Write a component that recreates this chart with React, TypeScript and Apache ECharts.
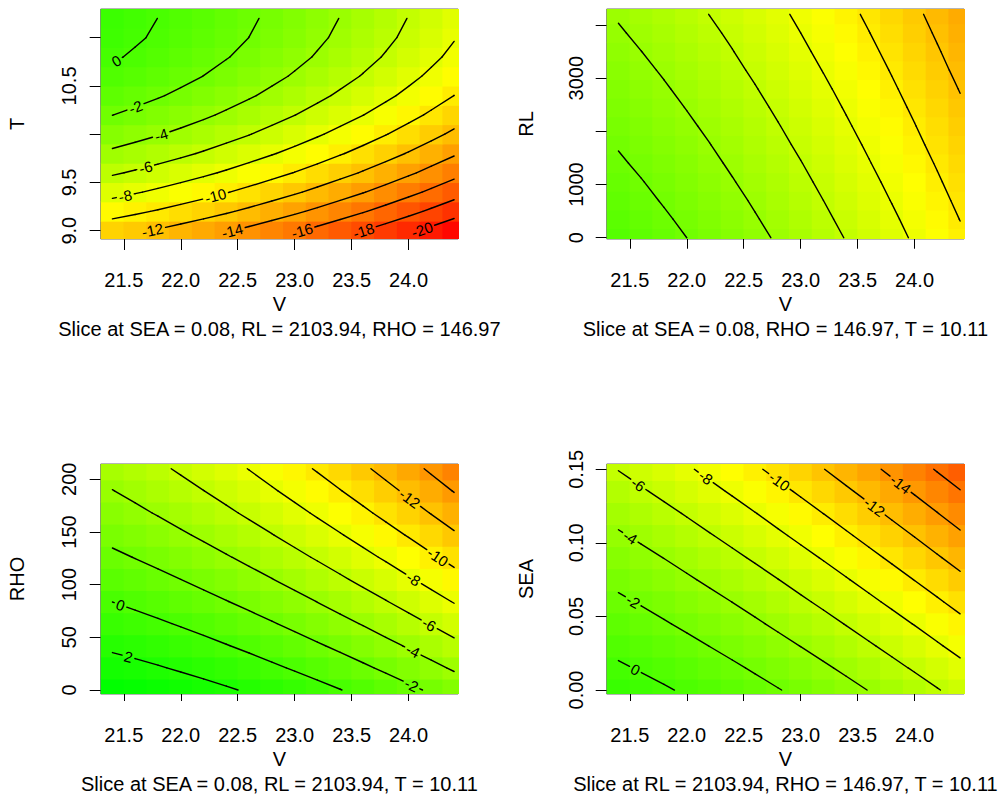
import { useEffect, useRef } from "react";
import * as echarts from "echarts";

const FONT = "'Liberation Sans', Arial, Helvetica, sans-serif";

// ---------- shared V axis ----------
const vNodes = [21.4, 21.6, 21.8, 22.0, 22.2, 22.4, 22.6, 22.8, 23.0, 23.2, 23.4, 23.6, 23.8, 24.0, 24.2, 24.4];
const vTicks = [21.5, 22.0, 22.5, 23.0, 23.5, 24.0];
const vRange = [21.297, 24.435];

// ---------- slice 1: response over V x T ----------
const tNodes = [9.0, 9.2, 9.4, 9.6, 9.8, 10.0, 10.2, 10.4, 10.6, 10.8, 11.0, 11.2];
const tSurface = [
  [-11.23, -11.69, -12.18, -12.70, -13.25, -13.84, -14.45, -15.10, -15.77, -16.48, -17.22, -17.98, -18.78, -19.61, -20.48, -21.37],
  [-9.23, -9.68, -10.16, -10.67, -11.20, -11.78, -12.38, -13.02, -13.68, -14.38, -15.11, -15.86, -16.65, -17.46, -18.32, -19.20],
  [-7.41, -7.85, -8.32, -8.81, -9.34, -9.91, -10.50, -11.12, -11.77, -12.46, -13.17, -13.91, -14.69, -15.50, -16.34, -17.21],
  [-5.78, -6.21, -6.66, -7.15, -7.66, -8.22, -8.79, -9.41, -10.05, -10.72, -11.43, -12.15, -12.92, -13.71, -14.55, -15.41],
  [-4.33, -4.74, -5.19, -5.66, -6.17, -6.71, -7.28, -7.88, -8.50, -9.17, -9.86, -10.58, -11.33, -12.12, -12.94, -13.79],
  [-3.06, -3.47, -3.90, -4.36, -4.85, -5.39, -5.94, -6.53, -7.15, -7.80, -8.48, -9.18, -9.93, -10.70, -11.51, -12.34],
  [-1.98, -2.37, -2.79, -3.24, -3.73, -4.25, -4.79, -5.37, -5.97, -6.61, -7.28, -7.97, -8.70, -9.47, -10.27, -11.09],
  [-1.08, -1.46, -1.87, -2.31, -2.78, -3.29, -3.82, -4.39, -4.98, -5.61, -6.27, -6.95, -7.66, -8.41, -9.20, -10.01],
  [-0.36, -0.73, -1.13, -1.56, -2.02, -2.52, -3.03, -3.59, -4.17, -4.79, -5.44, -6.10, -6.81, -7.55, -8.33, -9.13],
  [0.17, -0.19, -0.57, -0.99, -1.44, -1.92, -2.43, -2.98, -3.54, -4.15, -4.79, -5.44, -6.14, -6.87, -7.63, -8.42],
  [0.52, 0.18, -0.20, -0.61, -1.04, -1.52, -2.01, -2.55, -3.10, -3.70, -4.32, -4.97, -5.65, -6.37, -7.12, -7.90],
  [0.69, 0.35, -0.01, -0.40, -0.83, -1.29, -1.77, -2.30, -2.84, -3.42, -4.04, -4.67, -5.34, -6.05, -6.79, -7.56],
];
const tLevels = [0, -2, -4, -6, -8, -10, -12, -14, -16, -18, -20];
const tLabelSpots = [
  [21.45, 10.73, 0], [21.61, 10.26, -2], [21.83, 9.99, -4], [21.70, 9.62, -6],
  [21.52, 9.32, -8], [22.31, 9.34, -10], [21.76, 8.96, -12], [22.46, 8.96, -14],
  [23.07, 8.97, -16], [23.61, 8.97, -18], [24.13, 8.97, -20],
];
const tTicks = [9, 9.5, 10, 10.5, 11];
const tTickLabels = [9, 9.5, 10.5];
const tRange = [8.914, 11.297];

// ---------- slice 2: response over V x RL ----------
const rlNodes = [0, 350, 700, 1050, 1400, 1750, 2100, 2450, 2800, 3150, 3500, 3850, 4200];
const rlSurface = [
  [-0.64, -1.07, -1.52, -2.00, -2.51, -3.04, -3.60, -4.18, -4.78, -5.42, -6.07, -6.76, -7.46, -8.20, -8.96, -9.74],
  [-0.93, -1.36, -1.81, -2.29, -2.80, -3.33, -3.89, -4.47, -5.08, -5.71, -6.36, -7.05, -7.75, -8.49, -9.25, -10.03],
  [-1.22, -1.65, -2.11, -2.59, -3.09, -3.62, -4.18, -4.76, -5.37, -6.00, -6.66, -7.34, -8.05, -8.78, -9.54, -10.32],
  [-1.51, -1.94, -2.40, -2.88, -3.39, -3.92, -4.47, -5.05, -5.66, -6.29, -6.95, -7.63, -8.34, -9.07, -9.83, -10.61],
  [-1.81, -2.24, -2.69, -3.17, -3.68, -4.21, -4.76, -5.35, -5.95, -6.58, -7.24, -7.93, -8.63, -9.37, -10.12, -10.91],
  [-2.10, -2.53, -2.98, -3.46, -3.97, -4.50, -5.06, -5.64, -6.25, -6.88, -7.53, -8.22, -8.92, -9.66, -10.42, -11.20],
  [-2.39, -2.82, -3.28, -3.76, -4.26, -4.79, -5.35, -5.93, -6.54, -7.17, -7.83, -8.51, -9.22, -9.95, -10.71, -11.49],
  [-2.68, -3.11, -3.57, -4.05, -4.55, -5.09, -5.64, -6.22, -6.83, -7.46, -8.12, -8.80, -9.51, -10.24, -11.00, -11.78],
  [-2.97, -3.40, -3.86, -4.34, -4.85, -5.38, -5.93, -6.51, -7.12, -7.75, -8.41, -9.09, -9.80, -10.53, -11.29, -12.07],
  [-3.27, -3.70, -4.15, -4.63, -5.14, -5.67, -6.23, -6.81, -7.42, -8.05, -8.70, -9.39, -10.09, -10.83, -11.59, -12.37],
  [-3.56, -3.99, -4.44, -4.93, -5.43, -5.96, -6.52, -7.10, -7.71, -8.34, -9.00, -9.68, -10.38, -11.12, -11.88, -12.66],
  [-3.85, -4.28, -4.74, -5.22, -5.72, -6.25, -6.81, -7.39, -8.00, -8.63, -9.29, -9.97, -10.68, -11.41, -12.17, -12.95],
  [-4.14, -4.57, -5.03, -5.51, -6.02, -6.55, -7.10, -7.68, -8.29, -8.92, -9.58, -10.26, -10.97, -11.70, -12.46, -13.24],
];
const rlLevels = [-2, -4, -6, -8, -10, -12];
const rlLabelSpots: number[][] = [];
const rlTicks = [0, 1000, 2000, 3000, 4000];
const rlTickLabels = [0, 1000, 3000];
const rlRange = [-24, 4300];

// ---------- slice 3: response over V x RHO ----------
const rhoNodes = [0, 21, 42, 63, 84, 105, 126, 147, 168, 189, 210];
const rhoSurface = [
  [3.57, 3.35, 3.11, 2.83, 2.52, 2.19, 1.82, 1.42, 0.99, 0.53, 0.04, -0.49, -1.04, -1.62, -2.24, -2.88],
  [2.63, 2.39, 2.12, 1.81, 1.48, 1.12, 0.72, 0.29, -0.17, -0.65, -1.17, -1.72, -2.30, -2.91, -3.55, -4.22],
  [1.72, 1.46, 1.15, 0.82, 0.46, 0.07, -0.35, -0.81, -1.29, -1.81, -2.35, -2.93, -3.54, -4.17, -4.84, -5.54],
  [0.84, 0.54, 0.22, -0.14, -0.53, -0.95, -1.40, -1.88, -2.40, -2.94, -3.51, -4.11, -4.75, -5.41, -6.11, -6.83],
  [-0.02, -0.35, -0.70, -1.09, -1.50, -1.95, -2.43, -2.93, -3.47, -4.04, -4.64, -5.27, -5.93, -6.63, -7.35, -8.10],
  [-0.86, -1.21, -1.59, -2.00, -2.45, -2.92, -3.42, -3.96, -4.53, -5.12, -5.75, -6.41, -7.09, -7.81, -8.56, -9.34],
  [-1.67, -2.05, -2.46, -2.90, -3.37, -3.87, -4.40, -4.96, -5.56, -6.18, -6.83, -7.52, -8.23, -8.98, -9.76, -10.56],
  [-2.46, -2.86, -3.30, -3.77, -4.26, -4.79, -5.35, -5.94, -6.56, -7.21, -7.89, -8.60, -9.35, -10.12, -10.92, -11.76],
  [-3.22, -3.65, -4.12, -4.61, -5.14, -5.69, -6.28, -6.89, -7.54, -8.22, -8.93, -9.67, -10.44, -11.24, -12.07, -12.93],
  [-3.96, -4.42, -4.91, -5.43, -5.98, -6.57, -7.18, -7.82, -8.50, -9.20, -9.94, -10.70, -11.50, -12.33, -13.19, -14.08],
  [-4.67, -5.16, -5.68, -6.23, -6.81, -7.41, -8.05, -8.73, -9.43, -10.16, -10.92, -11.71, -12.54, -13.39, -14.28, -15.20],
];
const rhoLevels = [2, 0, -2, -4, -6, -8, -10, -12, -14];
const rhoLabelSpots = [
  [21.53, 26.9, 2], [21.46, 77.6, 0], [24.01, 1.0, -2], [24.02, 33.2, -4],
  [24.17, 60.1, -6], [24.02, 101.3, -8], [24.24, 123.4, -10], [23.99, 178.7, -12],
];
const rhoTicks = [0, 50, 100, 150, 200];
const rhoTickLabels = [0, 50, 100, 150, 200];
const rhoRange = [-3.8, 214.5];

// ---------- slice 4: response over V x SEA ----------
const seaNodes = [0, 0.015, 0.03, 0.045, 0.06, 0.075, 0.09, 0.105, 0.12, 0.135, 0.15];
const seaSurface = [
  [0.82, 0.50, 0.17, -0.20, -0.59, -1.01, -1.45, -1.92, -2.41, -2.93, -3.47, -4.05, -4.64, -5.26, -5.91, -6.58],
  [0.21, -0.13, -0.49, -0.88, -1.29, -1.73, -2.20, -2.69, -3.21, -3.75, -4.32, -4.92, -5.54, -6.18, -6.85, -7.55],
  [-0.42, -0.78, -1.16, -1.58, -2.02, -2.48, -2.97, -3.49, -4.03, -4.59, -5.19, -5.81, -6.45, -7.12, -7.82, -8.54],
  [-1.06, -1.44, -1.86, -2.29, -2.75, -3.24, -3.76, -4.30, -4.86, -5.45, -6.07, -6.71, -7.38, -8.07, -8.79, -9.54],
  [-1.72, -2.13, -2.56, -3.03, -3.51, -4.02, -4.56, -5.13, -5.72, -6.33, -6.97, -7.64, -8.33, -9.05, -9.79, -10.56],
  [-2.40, -2.83, -3.29, -3.78, -4.29, -4.82, -5.38, -5.97, -6.59, -7.22, -7.89, -8.58, -9.29, -10.04, -10.80, -11.60],
  [-3.09, -3.55, -4.03, -4.54, -5.08, -5.64, -6.22, -6.84, -7.47, -8.13, -8.82, -9.54, -10.28, -11.04, -11.84, -12.65],
  [-3.81, -4.29, -4.79, -5.33, -5.89, -6.47, -7.08, -7.72, -8.38, -9.06, -9.78, -10.52, -11.28, -12.07, -12.88, -13.73],
  [-4.54, -5.04, -5.57, -6.13, -6.71, -7.32, -7.95, -8.61, -9.30, -10.01, -10.75, -11.51, -12.30, -13.11, -13.95, -14.82],
  [-5.29, -5.82, -6.37, -6.95, -7.56, -8.19, -8.85, -9.53, -10.24, -10.97, -11.74, -12.52, -13.33, -14.17, -15.03, -15.92],
  [-6.05, -6.61, -7.18, -7.79, -8.42, -9.08, -9.76, -10.47, -11.20, -11.96, -12.74, -13.55, -14.39, -15.25, -16.14, -17.05],
];
const seaLevels = [0, -2, -4, -6, -8, -10, -12, -14, -16];
const seaLabelSpots = [
  [21.54, 0.0126, 0], [21.52, 0.059, -2], [21.49, 0.102, -4], [21.55, 0.137, -6],
  [22.15, 0.1427, -8], [22.79, 0.1393, -10], [23.64, 0.1235, -12], [23.86, 0.1381, -14],
];
const seaTicks = [0, 0.05, 0.1, 0.15];
const seaTickLabels = [0, 0.05, 0.1, 0.15];
const seaRange = [-0.0027, 0.1536];

// common colour range of all four images
const zRange = [-21.7, 3.6];
const palette = ["#FF0000", "#FFFF00", "#00FF00"];

// ---------- panel definitions ----------
type Slice = {
  id: string;
  yName: string;
  yNodes: number[];
  surface: number[][];
  levels: number[];
  spots: number[][];
  yTicks: number[];
  yTickLabels: number[];
  yRange: number[];
  yDigits: number;
  subtitle: string;
};

const slices: Slice[] = [
  { id: "T", yName: "T", yNodes: tNodes, surface: tSurface, levels: tLevels, spots: tLabelSpots, yTicks: tTicks, yTickLabels: tTickLabels, yRange: tRange, yDigits: 1, subtitle: "Slice at SEA = 0.08, RL = 2103.94, RHO = 146.97" },
  { id: "RL", yName: "RL", yNodes: rlNodes, surface: rlSurface, levels: rlLevels, spots: rlLabelSpots, yTicks: rlTicks, yTickLabels: rlTickLabels, yRange: rlRange, yDigits: 0, subtitle: "Slice at SEA = 0.08, RHO = 146.97, T = 10.11" },
  { id: "RHO", yName: "RHO", yNodes: rhoNodes, surface: rhoSurface, levels: rhoLevels, spots: rhoLabelSpots, yTicks: rhoTicks, yTickLabels: rhoTickLabels, yRange: rhoRange, yDigits: 0, subtitle: "Slice at SEA = 0.08, RL = 2103.94, T = 10.11" },
  { id: "SEA", yName: "SEA", yNodes: seaNodes, surface: seaSurface, levels: seaLevels, spots: seaLabelSpots, yTicks: seaTicks, yTickLabels: seaTickLabels, yRange: seaRange, yDigits: 2, subtitle: "Slice at RL = 2103.94, RHO = 146.97, T = 10.11" },
];

// plot boxes, pixel layout
const boxes = [
  { left: 100.7, top: 9, nameGap: 74, labelMargin: 22 },
  { left: 606.7, top: 9, nameGap: 71, labelMargin: 20.5 },
  { left: 100.7, top: 464, nameGap: 74, labelMargin: 22 },
  { left: 606.7, top: 464, nameGap: 71, labelMargin: 20.5 },
];
const BOX_W = 357.4;
const BOX_H = 230;
const LABEL_SIZE = 15;

// ---------- contour tracing (marching squares) ----------
type Seg = number[]; // [x1, y1, x2, y2, level]
function traceContours(xs: number[], ys: number[], z: number[][], levels: number[]): Seg[] {
  const out: Seg[] = [];
  for (const lv of levels) {
    for (let r = 0; r < ys.length - 1; r++) {
      for (let c = 0; c < xs.length - 1; c++) {
        const x0 = xs[c], x1 = xs[c + 1], y0 = ys[r], y1 = ys[r + 1];
        const a = z[r][c], b = z[r][c + 1], d = z[r + 1][c], e = z[r + 1][c + 1];
        const hits: number[][] = [];
        const cross = (za: number, zb: number, xa: number, ya: number, xb: number, yb: number) => {
          if ((za >= lv) !== (zb >= lv)) {
            const t = (lv - za) / (zb - za);
            hits.push([xa + t * (xb - xa), ya + t * (yb - ya)]);
          }
        };
        cross(a, b, x0, y0, x1, y0);
        cross(b, e, x1, y0, x1, y1);
        cross(e, d, x1, y1, x0, y1);
        cross(d, a, x0, y1, x0, y0);
        if (hits.length === 2) {
          out.push([hits[0][0], hits[0][1], hits[1][0], hits[1][1], lv]);
        } else if (hits.length === 4) {
          const mid = (a + b + d + e) / 4;
          if ((mid >= lv) === (a >= lv)) {
            out.push([hits[0][0], hits[0][1], hits[1][0], hits[1][1], lv]);
            out.push([hits[2][0], hits[2][1], hits[3][0], hits[3][1], lv]);
          } else {
            out.push([hits[0][0], hits[0][1], hits[3][0], hits[3][1], lv]);
            out.push([hits[1][0], hits[1][1], hits[2][0], hits[2][1], lv]);
          }
        }
      }
    }
  }
  return out;
}

const segmentsBySlice = slices.map((s) => traceContours(vNodes, s.yNodes, s.surface, s.levels));

type PlacedLabel = { x: number; y: number; angle: number; text: string; level: number; r: number };
const labelCache: Record<string, PlacedLabel[]> = {};

function textWidth(t: string, size: number) {
  let w = 0;
  for (const ch of t) w += ch === "-" ? 0.333 : 0.556;
  return w * size;
}

// put each contour label on the nearest point of its own contour, aligned with it
function placeLabels(si: number, api: any): PlacedLabel[] {
  const segs = segmentsBySlice[si];
  return slices[si].spots.map((spot) => {
    const p = api.coord([spot[0], spot[1]]);
    const lv = spot[2];
    let best = { d: Infinity, x: p[0], y: p[1], angle: 0 };
    for (const s of segs) {
      if (s[4] !== lv) continue;
      const a = api.coord([s[0], s[1]]);
      const b = api.coord([s[2], s[3]]);
      const dx = b[0] - a[0], dy = b[1] - a[1];
      const len2 = dx * dx + dy * dy;
      let t = len2 > 0 ? ((p[0] - a[0]) * dx + (p[1] - a[1]) * dy) / len2 : 0;
      t = Math.max(0, Math.min(1, t));
      const qx = a[0] + t * dx, qy = a[1] + t * dy;
      const d = (qx - p[0]) ** 2 + (qy - p[1]) ** 2;
      if (d < best.d) {
        let ang = Math.atan2(-dy, dx);
        if (ang > Math.PI / 2) ang -= Math.PI;
        if (ang < -Math.PI / 2) ang += Math.PI;
        best = { d, x: qx, y: qy, angle: ang };
      }
    }
    const text = String(lv);
    return { x: best.x, y: best.y, angle: best.angle, text, level: lv, r: textWidth(text, LABEL_SIZE) / 2 + 2.5 };
  });
}

function cutAround(pieces: number[][], a: number[], b: number[], L: PlacedLabel) {
  const dx = b[0] - a[0], dy = b[1] - a[1];
  const fx = a[0] - L.x, fy = a[1] - L.y;
  const A = dx * dx + dy * dy;
  if (A < 1e-9) return pieces;
  const B = 2 * (fx * dx + fy * dy);
  const C = fx * fx + fy * fy - L.r * L.r;
  const disc = B * B - 4 * A * C;
  if (disc <= 0) return pieces;
  const sq = Math.sqrt(disc);
  const t0 = (-B - sq) / (2 * A), t1 = (-B + sq) / (2 * A);
  const res: number[][] = [];
  for (const [p, q] of pieces) {
    if (t1 <= p || t0 >= q) { res.push([p, q]); continue; }
    if (t0 > p) res.push([p, t0]);
    if (t1 < q) res.push([t1, q]);
  }
  return res;
}

function buildOption() {
  const grid: any[] = [];
  const xAxis: any[] = [];
  const yAxis: any[] = [];
  const series: any[] = [];
  const heatIdx: number[] = [];
  const graphic: any[] = [];
  const dv = vNodes[1] - vNodes[0];

  slices.forEach((s, i) => {
    const box = boxes[i];
    const dy = s.yNodes[1] - s.yNodes[0];
    grid.push({
      left: box.left, top: box.top, width: BOX_W, height: BOX_H,
      show: true, borderColor: "#6a6a6a", borderWidth: 1, backgroundColor: "transparent",
    });
    xAxis.push({
      type: "value", gridIndex: i, min: vRange[0], max: vRange[1],
      axisLine: { show: false }, splitLine: { show: false },
      axisTick: { show: true, length: 11, lineStyle: { color: "#000", width: 1 }, customValues: vTicks },
      axisLabel: {
        customValues: vTicks, formatter: (v: number) => v.toFixed(1),
        fontSize: 20, fontFamily: FONT, color: "#000", margin: 31,
      },
      name: "V", nameLocation: "middle", nameGap: 55,
      nameTextStyle: { fontSize: 20, fontFamily: FONT, color: "#000" },
    });
    yAxis.push({
      type: "value", gridIndex: i, min: s.yRange[0], max: s.yRange[1],
      axisLine: { show: false }, splitLine: { show: false },
      axisTick: { show: true, length: 11, lineStyle: { color: "#000", width: 1 }, customValues: s.yTicks },
      axisLabel: {
        customValues: s.yTickLabels, formatter: (v: number) => v.toFixed(s.yDigits), rotate: 90,
        fontSize: 20, fontFamily: FONT, color: "#000", margin: box.labelMargin,
      },
      name: s.yName, nameLocation: "middle", nameGap: box.nameGap,
      nameTextStyle: { fontSize: 20, fontFamily: FONT, color: "#000" },
    });

    // image cells
    const cells: number[][] = [];
    s.surface.forEach((row, r) => row.forEach((z, c) => cells.push([vNodes[c], s.yNodes[r], z])));
    heatIdx.push(series.length);
    series.push({
      type: "custom", xAxisIndex: i, yAxisIndex: i, clip: true, silent: true,
      encode: { x: 0, y: 1 },
      data: cells,
      renderItem: (_p: any, api: any) => {
        const v = api.value(0), y = api.value(1);
        const a = api.coord([v - dv / 2, y + dy / 2]);
        const b = api.coord([v + dv / 2, y - dy / 2]);
        return {
          type: "rect",
          shape: { x: a[0] - 0.3, y: a[1] - 0.3, width: b[0] - a[0] + 0.9, height: b[1] - a[1] + 0.9 },
          style: { fill: api.visual("color"), stroke: null },
        };
      },
    });

    // contour lines, broken where a label sits
    series.push({
      type: "custom", xAxisIndex: i, yAxisIndex: i, clip: true, silent: true,
      encode: { x: [0, 2], y: [1, 3] },
      data: segmentsBySlice[i],
      renderItem: (params: any, api: any) => {
        if (params.dataIndex === 0 || !labelCache[s.id]) labelCache[s.id] = placeLabels(i, api);
        const a = api.coord([api.value(0), api.value(1)]);
        const b = api.coord([api.value(2), api.value(3)]);
        const lv = api.value(4);
        let pieces: number[][] = [[0, 1]];
        for (const L of labelCache[s.id]) if (L.level === lv) pieces = cutAround(pieces, a, b, L);
        return {
          type: "group",
          children: pieces.map(([t0, t1]) => ({
            type: "line",
            shape: {
              x1: a[0] + (b[0] - a[0]) * t0, y1: a[1] + (b[1] - a[1]) * t0,
              x2: a[0] + (b[0] - a[0]) * t1, y2: a[1] + (b[1] - a[1]) * t1,
            },
            style: { stroke: "#000", lineWidth: 1.4, lineCap: "round" },
          })),
        };
      },
    });

    // contour labels
    series.push({
      type: "custom", xAxisIndex: i, yAxisIndex: i, clip: false, silent: true,
      encode: { x: 0, y: 1 },
      data: s.spots,
      renderItem: (params: any, api: any) => {
        if (!labelCache[s.id]) labelCache[s.id] = placeLabels(i, api);
        const L = labelCache[s.id][params.dataIndex];
        return {
          type: "text", x: L.x, y: L.y, rotation: L.angle,
          style: {
            text: L.text, fontSize: LABEL_SIZE, fontFamily: FONT, fill: "#000",
            align: "center", verticalAlign: "middle",
          },
        };
      },
    });

    graphic.push({
      type: "text", x: box.left + BOX_W / 2, y: box.top + BOX_H + 90,
      style: {
        text: s.subtitle, fontSize: 20, fontFamily: FONT, fill: "#000",
        align: "center", verticalAlign: "middle",
      },
    });
  });

  return {
    animation: false,
    backgroundColor: "#fff",
    grid, xAxis, yAxis, series, graphic,
    visualMap: {
      type: "continuous", show: false, min: zRange[0], max: zRange[1], dimension: 2,
      seriesIndex: heatIdx, inRange: { color: palette },
    },
  };
}

export default function App() {
  const ref = useRef<HTMLDivElement>(null);
  useEffect(() => {
    if (!ref.current) return;
    const chart = echarts.init(ref.current, undefined, { renderer: "svg" });
    chart.setOption(buildOption() as any);
    return () => chart.dispose();
  }, []);
  return (
    <div
      ref={ref}
      style={{ position: "absolute", left: 0, top: 0, width: 999, height: 798, background: "#fff" }}
    />
  );
}
